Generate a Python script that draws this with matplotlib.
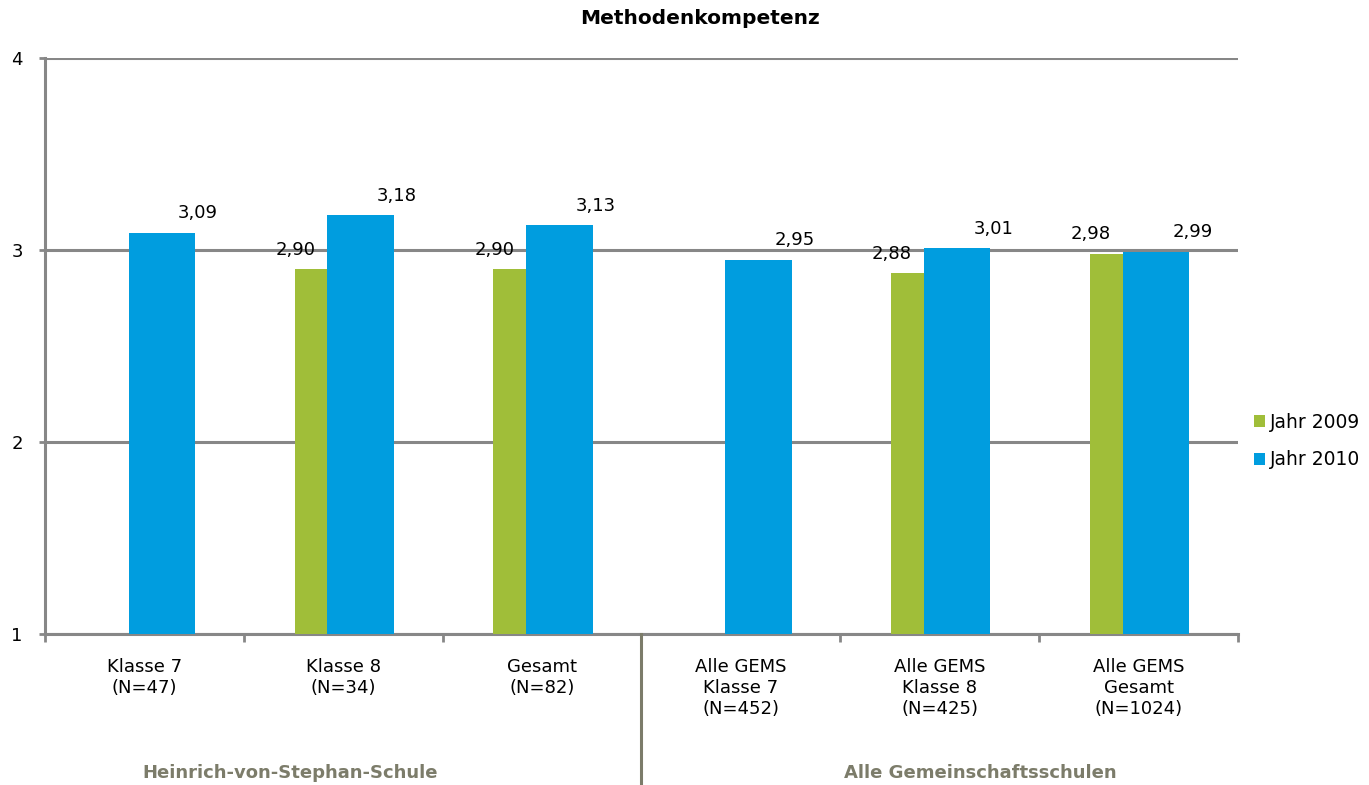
import matplotlib.pyplot as plt
import numpy as np
from matplotlib.lines import Line2D

categories = ['Klasse 7\n(N=47)', 'Klasse 8\n(N=34)', 'Gesamt\n(N=82)',
              'Alle GEMS\nKlasse 7\n(N=452)', 'Alle GEMS\nKlasse 8\n(N=425)',
              'Alle GEMS\nGesamt\n(N=1024)']
jahr_2009 = [np.nan, 2.90, 2.90, np.nan, 2.88, 2.98]
jahr_2010 = [3.09, 3.18, 3.13, 2.95, 3.01, 2.99]
series_names = ['Jahr 2009', 'Jahr 2010']
groups = ['Heinrich-von-Stephan-Schule', 'Alle Gemeinschaftsschulen']

green = '#a0be39'
blue = '#009ddf'
grey = '#878787'
olive = '#7c7c6a'

fig = plt.figure(figsize=(13.69, 7.85), dpi=100)
ax = fig.add_axes([45/1369, 1-634/785, (1238-45)/1369, (634-58)/785])

x = np.arange(len(categories))
ax.bar(x - 0.1625, jahr_2009, width=0.165, color=green, label=series_names[0], zorder=3)
ax.bar(x + 0.0875, jahr_2010, width=0.335, color=blue, label=series_names[1], zorder=3)

# value labels, german decimal comma
for xi, v in zip(x, jahr_2009):
    if not np.isnan(v):
        ax.annotate(f'{v:.2f}'.replace('.', ','), (xi - 0.24, v), xytext=(0, 14),
                    textcoords='offset points', ha='center', va='center', fontsize=13)
for xi, v in zip(x, jahr_2010):
    ax.annotate(f'{v:.2f}'.replace('.', ','), (xi + 0.27, v), xytext=(0, 14),
                textcoords='offset points', ha='center', va='center', fontsize=13)

ax.set_xlim(-0.5, len(categories) - 0.5)
ax.set_ylim(1, 4)
ax.set_yticks([1, 2, 3, 4])
ax.set_yticklabels(['1', '2', '3', '4'], fontsize=13)
ax.yaxis.grid(True, color=grey, linewidth=2.2, zorder=1)
ax.tick_params(axis='y', length=4, width=2, color=grey, pad=12)

ax.set_xticks(x)
ax.set_xticklabels(categories, fontsize=13, linespacing=1.22)
ax.tick_params(axis='x', length=0, pad=17)
ax.set_xticks(np.arange(-0.5, len(categories)), minor=True)
ax.tick_params(axis='x', which='minor', length=6, width=2, color=grey)

for side in ['top', 'right']:
    ax.spines[side].set_visible(False)
for side in ['left', 'bottom']:
    ax.spines[side].set_color(grey)
    ax.spines[side].set_linewidth(2.2)

# separator between the two groups
fig.add_artist(Line2D([641/1369, 641/1369], [1-634/785, 0], color=olive, linewidth=2.2))

fig.text(290/1369, 1-773/785, groups[0], ha='center', va='center',
         fontsize=13, fontweight='bold', color=olive)
fig.text(980/1369, 1-773/785, groups[1], ha='center', va='center',
         fontsize=13, fontweight='bold', color=olive)

fig.text(700/1369, 1-18/785, 'Methodenkompetenz', ha='center', va='center',
         fontsize=14.5, fontweight='bold')

fig.legend(loc='center left', bbox_to_anchor=(1246/1369, 1-441/785), frameon=False,
           fontsize=13.5, handlelength=0.6, handleheight=0.6, handletextpad=0.3,
           labelspacing=1.0, borderaxespad=0)

fig.savefig('out.png', dpi=100)
